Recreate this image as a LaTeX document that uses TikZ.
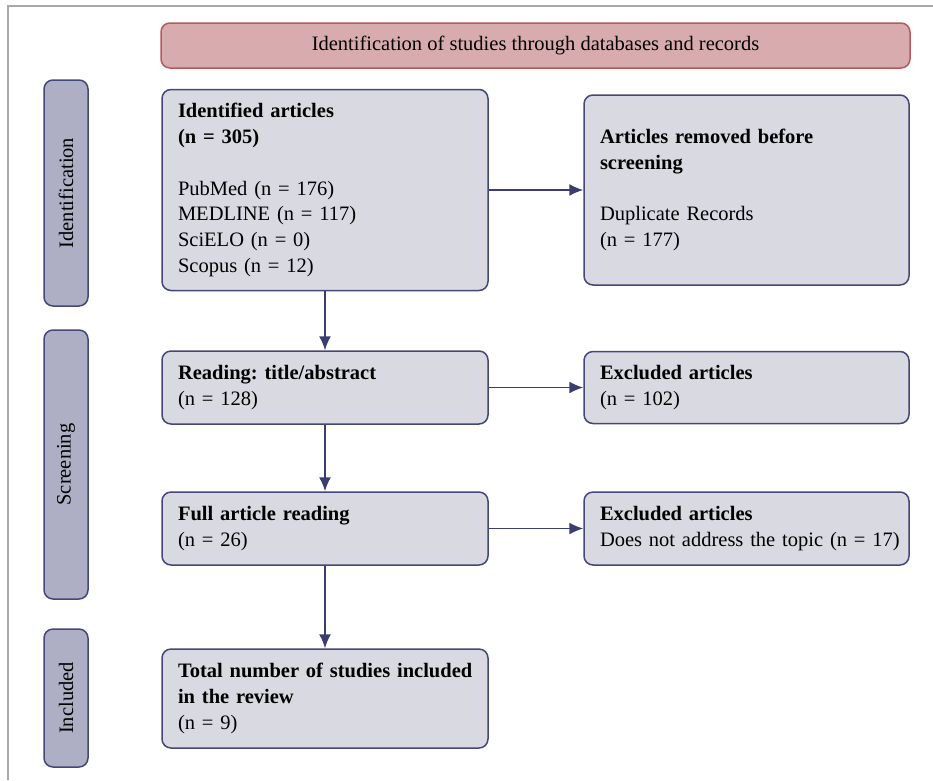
\documentclass[tikz,border=0pt]{standalone}
\usepackage{fontspec}
\setmainfont{Liberation Serif}
\usetikzlibrary{arrows.meta}
\definecolor{boxfill}{HTML}{D8D9E1}
\definecolor{boxdraw}{HTML}{45477A}
\definecolor{sidefill}{HTML}{AEAFC5}
\definecolor{titlefill}{HTML}{D8ACAE}
\definecolor{titledraw}{HTML}{B8585C}
\definecolor{arrowcol}{HTML}{3B3D6E}
\definecolor{framegray}{HTML}{A8A8A8}
\frenchspacing
\begin{document}
\begin{tikzpicture}[x=1pt,y=-1pt,
  font=\fontsize{20.5}{25.7}\selectfont,
  box/.style={draw=boxdraw, line width=1.5pt, fill=boxfill, rounded corners=9pt,
    align=left, inner xsep=16pt, inner ysep=0pt, text width=#1},
  box/.default=294pt,
  side/.style={draw=boxdraw, line width=1.5pt, fill=sidefill, rounded corners=9pt,
    rotate=90, inner sep=0pt, minimum height=44pt},
  titlebox/.style={draw=titledraw, line width=1.5pt, fill=titlefill, rounded corners=9pt,
    minimum width=749pt, minimum height=45pt, inner sep=0pt},
  conn/.style={draw=arrowcol, line width=1.5pt, -{Latex[length=14pt,width=12pt]}}
]
\useasboundingbox (0,0) rectangle (933,780);
\draw[framegray, line width=2pt] (8,780) -- (8,6) -- (933,6);

\node[titlebox] (title) at (535.5,45.5) {Identification of studies through databases and records};

\node[side, minimum width=226pt] (sid) at (66,193) {Identification};
\node[side, minimum width=269pt] (sscr) at (66,464.5) {Screening};
\node[side, minimum width=138pt] (sinc) at (66,698) {Included};

\node[box, minimum height=201pt] (ident) at (325,190)
  {\textbf{Identified articles}\\\textbf{(n = 305)}\\[25.7pt]PubMed (n = 176)\\MEDLINE (n = 117)\\SciELO (n = 0)\\Scopus (n = 12)};
\node[box=293pt, minimum height=190pt] (removed) at (746.5,190)
  {\textbf{Articles removed before}\\\textbf{screening}\\[25.7pt]Duplicate Records\\(n = 177)};

\node[box, minimum height=73pt] (read) at (325,387.5)
  {\textbf{Reading: title/abstract}\\(n = 128)};
\node[box=293pt, minimum height=72pt] (exc1) at (746.5,387.5)
  {\textbf{Excluded articles}\\(n = 102)};

\node[box, minimum height=73pt] (full) at (325,528.5)
  {\textbf{Full article reading}\\(n = 26)};
\node[box=293pt, minimum height=73pt] (exc2) at (746.5,528.5)
  {\textbf{Excluded articles}\\\mbox{Does not address the topic (n = 17)}};

\node[box, minimum height=99pt] (total) at (325,698.5)
  {\mbox{\textbf{Total number of studies included}}\\\textbf{in the review}\\(n = 9)};

\draw[conn] (ident) -- (read);
\draw[conn] (read) -- (full);
\draw[conn] (full) -- (total);
\draw[conn] (ident) -- (removed);
\draw[conn] (read) -- (exc1);
\draw[conn] (full) -- (exc2);
\end{tikzpicture}
\end{document}
